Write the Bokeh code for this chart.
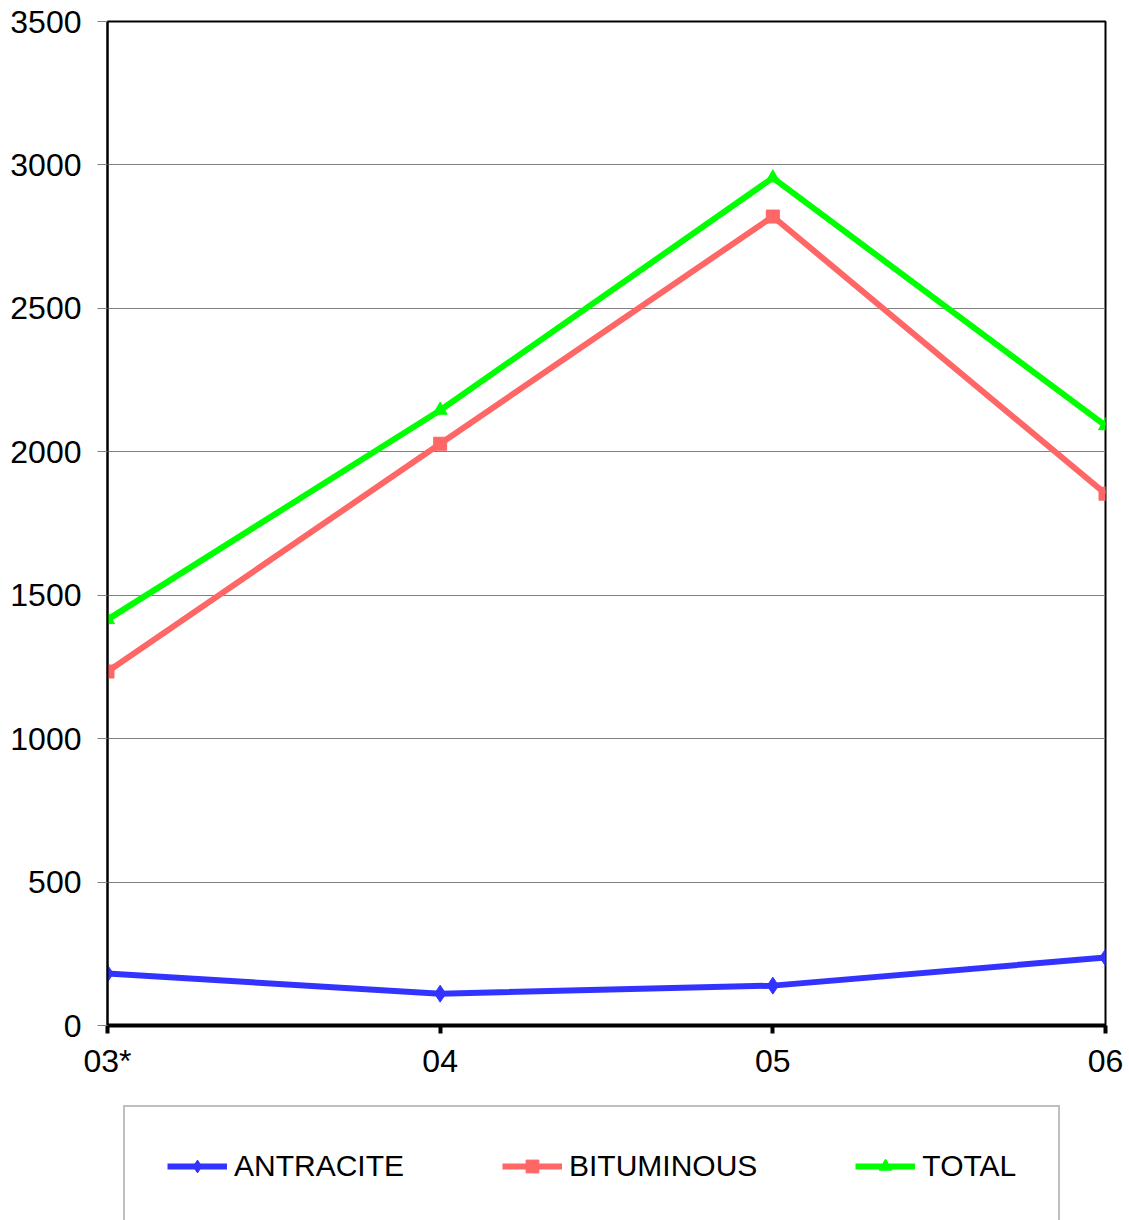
from bokeh.plotting import figure
from bokeh.layouts import column
from bokeh.models import Legend, LegendItem, FixedTicker, Range1d
from bokeh.embed import file_html
from bokeh.resources import INLINE

# Coal production by year
years = ["03*", "04", "05", "06"]
antracite = [181, 111, 139, 237]
bituminous = [1234, 2028, 2820, 1854]
total = [1415, 2145, 2955, 2091]
y_ticks = [0, 500, 1000, 1500, 2000, 2500, 3000, 3500]

FONT = "Liberation Sans"
xs = list(range(len(years)))

p = figure(width=1129, height=1085, output_backend="svg", toolbar_location=None,
           x_range=Range1d(0, len(years) - 1), y_range=Range1d(0, 3500),
           min_border_left=107, min_border_right=24, min_border_top=21,
           min_border_bottom=60)
p.background_fill_color = "white"
p.border_fill_color = "white"
p.outline_line_color = "black"
p.outline_line_width = 2

# grid
p.xgrid.grid_line_color = None
p.ygrid.grid_line_color = "#808080"
p.ygrid.grid_line_width = 1

# y axis
p.yaxis.ticker = FixedTicker(ticks=y_ticks)
p.yaxis.axis_line_color = "black"
p.yaxis.axis_line_width = 2
p.yaxis.major_tick_line_color = "#808080"
p.yaxis.major_tick_out = 10
p.yaxis.major_tick_in = 0
p.yaxis.minor_tick_line_color = None
p.yaxis.major_label_text_font = FONT
p.yaxis.major_label_text_font_size = "32px"
p.yaxis.major_label_text_color = "black"
p.yaxis.major_label_standoff = 16

# x axis
p.xaxis.ticker = FixedTicker(ticks=xs)
p.xaxis.major_label_overrides = {i: y for i, y in enumerate(years)}
p.xaxis.axis_line_color = "black"
p.xaxis.axis_line_width = 4
p.xaxis.major_tick_line_color = "black"
p.xaxis.major_tick_line_width = 4
p.xaxis.major_tick_out = 8
p.xaxis.major_tick_in = 0
p.xaxis.minor_tick_line_color = None
p.xaxis.major_label_text_font = FONT
p.xaxis.major_label_text_font_size = "32px"
p.xaxis.major_label_text_color = "black"
p.xaxis.major_label_standoff = 9

series = [
    ("ANTRACITE", antracite, "#3333FF", "diamond", 17),
    ("BITUMINOUS", bituminous, "#FF6666", "square", 13),
    ("TOTAL", total, "#00FF00", "triangle", 14),
]

# legend panel underneath the chart
lg = figure(width=1129, height=135, output_backend="svg", toolbar_location=None,
            x_range=Range1d(0, 1), y_range=Range1d(0, 1),
            x_axis_location=None, y_axis_location=None,
            min_border_left=0, min_border_right=0, min_border_top=0,
            min_border_bottom=0)
lg.grid.visible = False
lg.outline_line_color = None
lg.background_fill_color = "white"
lg.border_fill_color = "white"

items = []
for name, vals, color, marker, size in series:
    p.line(xs, vals, line_color=color, line_width=6)
    p.scatter(xs, vals, marker=marker, size=size, fill_color=color,
              line_color=color)
    # off-range stand-ins so the legend panel has glyphs to sample
    ln = lg.line([-5, -4], [-5, -5], line_color=color, line_width=6)
    mk = lg.scatter([-5], [-5], marker=marker, size=size, fill_color=color,
                    line_color=color)
    items.append(LegendItem(label=name, renderers=[ln, mk]))

legend = Legend(items=items, orientation="horizontal", location=(16, -7),
                padding=42, spacing=98, glyph_width=60, glyph_height=32,
                label_standoff=7, label_text_font=FONT,
                label_text_font_size="30px", label_text_color="black",
                border_line_color="#808080", border_line_width=2,
                background_fill_color="white", background_fill_alpha=1.0)
lg.add_layout(legend, "center")

open("out.html", "w").write(file_html(column(p, lg, spacing=0), INLINE))
